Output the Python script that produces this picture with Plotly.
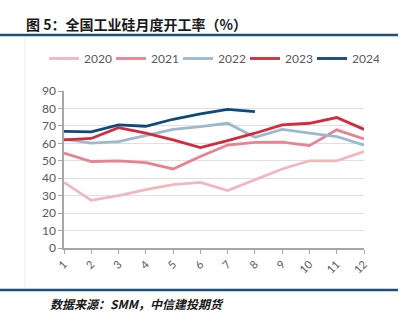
import plotly.graph_objects as go

months = list(range(1, 13))
tick_labels = [str(m) for m in months]
series_names = ["2020", "2021", "2022", "2023", "2024"]
y2020 = [37.6, 27.3, 30.0, 33.4, 36.3, 37.6, 32.9, 39.0, 45.3, 50.0, 50.0, 55.3]
y2021 = [54.4, 49.6, 50.0, 49.0, 45.3, 52.5, 59.0, 60.5, 60.7, 58.7, 67.7, 62.5]
y2022 = [62.4, 60.1, 61.0, 64.3, 68.0, 69.6, 71.5, 63.5, 68.0, 65.8, 63.9, 59.0]
y2023 = [62.0, 62.8, 69.0, 65.8, 62.0, 57.6, 61.6, 65.8, 70.6, 71.5, 74.8, 68.0]
y2024 = [66.8, 66.6, 70.6, 69.8, 73.8, 76.9, 79.5, 78.2]
colors = ["#F2B6BE", "#E98290", "#9DB9CD", "#D42A3C", "#0D4A7C"]

W, H = 409, 321
L, R, T, B = 64, 45, 91, 73
pw, ph = W - L - R, H - T - B

def px(x):
    return (x - L) / pw

def py(y):
    return (H - B - y) / ph

fig = go.Figure()
for name, ys, c in zip(series_names, [y2020, y2021, y2022, y2023, y2024], colors):
    fig.add_trace(go.Scatter(x=months[:len(ys)], y=ys, name=name, mode="lines",
                             line=dict(color=c, width=2.8)))

fig.update_layout(
    width=W, height=H,
    margin=dict(l=L, r=R, t=T, b=B, autoexpand=False),
    paper_bgcolor="white", plot_bgcolor="white",
    font=dict(family="Lato, Open Sans, sans-serif", color="#595959", size=12),
    showlegend=True,
    legend=dict(orientation="h", xref="paper", yref="paper",
                x=px(44), y=py(44), xanchor="left", yanchor="top",
                entrywidth=22, entrywidthmode="pixels", itemwidth=30,
                font=dict(size=12, color="#595959"), bgcolor="rgba(0,0,0,0)",
                tracegroupgap=0),
    xaxis=dict(range=[1, 12], tickvals=months, ticktext=tick_labels,
               showgrid=False, zeroline=False, showline=True,
               linecolor="#A6A6A6", linewidth=1.5, ticks="outside",
               ticklen=4, tickcolor="#A6A6A6", tickangle=-45,
               tickfont=dict(size=11, color="#595959")),
    yaxis=dict(range=[0, 90], dtick=10, showgrid=True, gridcolor="#E0E0E0",
               gridwidth=1.2, zeroline=False, showline=True,
               linecolor="#A6A6A6", linewidth=1.5, ticks="outside",
               ticklen=4, tickcolor="#A6A6A6",
               tickfont=dict(size=12, color="#595959")),
    title=dict(text="<b>图 5：全国工业硅月度开工率（%）</b>", x=26 / W, xanchor="left",
               y=1 - 25 / H, yanchor="middle",
               font=dict(family="Noto Sans CJK SC", size=14, color="#1a1a1a")),
    shapes=[
        dict(type="line", xref="paper", yref="paper", x0=px(0), x1=px(398),
             y0=py(35), y1=py(35), line=dict(color="#1B4F7C", width=2.5)),
        dict(type="line", xref="paper", yref="paper", x0=px(0), x1=px(398),
             y0=py(290), y1=py(290), line=dict(color="#1B4F7C", width=2.5)),
        dict(type="line", xref="paper", yref="paper", x0=px(25), x1=px(25),
             y0=py(37), y1=py(288), line=dict(color="#EDEDED", width=1)),
    ],
    annotations=[
        dict(text="<b><i>数据来源：SMM，中信建投期货</i></b>", xref="paper", yref="paper",
             x=px(48), y=py(303), xanchor="left", yanchor="middle", showarrow=False,
             font=dict(family="Noto Sans CJK SC", size=12, color="#1a1a1a")),
    ],
)

fig.write_html("out.html")
